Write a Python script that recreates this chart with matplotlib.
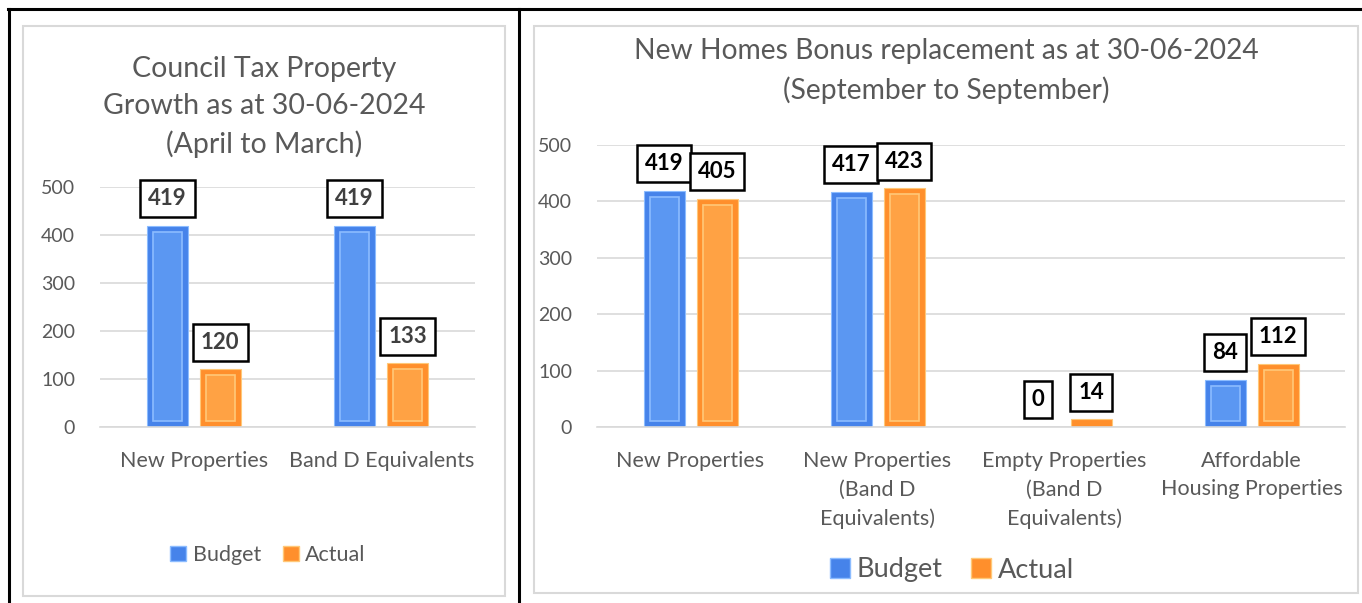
import matplotlib.pyplot as plt
from matplotlib.lines import Line2D
from matplotlib.patches import Rectangle, Patch

plt.rcParams["font.family"] = ["Lato", "DejaVu Sans"]

# data
ct_categories = ["New Properties", "Band D Equivalents"]
ct_budget = [419, 419]
ct_actual = [120, 133]

nhb_categories = ["New Properties", "New Properties\n(Band D\nEquivalents)",
                  "Empty Properties\n(Band D\nEquivalents)", "Affordable\nHousing Properties"]
nhb_budget = [419, 417, 0, 84]
nhb_actual = [405, 423, 14, 112]

series_names = ["Budget", "Actual"]
yticks = [0, 100, 200, 300, 400, 500]

W, H = 1362, 603
BLUE, BLUE_IN, BLUE_EDGE = "#4683ea", "#5b97f2", "#8cbcff"
ORANGE, ORANGE_IN, ORANGE_EDGE = "#ff8f2c", "#ffa244", "#ffc878"
GREY = "#595959"


def frac(x0, y0, x1, y1):
    # pixel box (top-left origin) -> figure fraction rect
    return [x0 / W, 1 - y1 / H, (x1 - x0) / W, (y1 - y0) / H]


def bevel_bars(ax, xs, vals, width, color, inner, edge, ax_px_w, ax_px_h):
    ax.bar(xs, vals, width=width, color=color, edgecolor=edge, linewidth=0.8, zorder=2)
    dx = 6 / ax_px_w * (ax.get_xlim()[1] - ax.get_xlim()[0])
    dy = 6 / ax_px_h * (ax.get_ylim()[1] - ax.get_ylim()[0])
    for x, v in zip(xs, vals):
        if v > 2 * dy:
            ax.bar(x, v - 2 * dy, bottom=dy, width=width - 2 * dx, color=inner,
                   edgecolor=edge, linewidth=1.2, zorder=3)


def draw_chart(ax, cats, budget, actual, ax_px_w, ax_px_h, lab_color):
    n = len(cats)
    ax.set_xlim(-0.5, n - 0.5)
    ax.set_ylim(0, 500)
    xs = list(range(n))
    off = 26.5 / (ax_px_w / n)
    bw = 41 / (ax_px_w / n)
    xb = [x - off for x in xs]
    xa = [x + off for x in xs]
    bevel_bars(ax, xb, budget, bw, BLUE, BLUE_IN, BLUE_EDGE, ax_px_w, ax_px_h)
    bevel_bars(ax, xa, actual, bw, ORANGE, ORANGE_IN, ORANGE_EDGE, ax_px_w, ax_px_h)
    for x, v in list(zip(xb, budget)) + list(zip(xa, actual)):
        ax.annotate(str(v), (x, v), xytext=(0, 19.5), textcoords="offset points",
                    ha="center", va="center", fontsize=16, fontweight="bold",
                    color=lab_color, zorder=5,
                    bbox=dict(boxstyle="square,pad=0.36", fc="white", ec="black", lw=1.8))
    ax.set_yticks(yticks)
    ax.set_xticks(xs)
    ax.set_xticklabels(cats, fontsize=15.5, color=GREY, linespacing=1.55)
    ax.tick_params(axis="y", labelsize=14, labelcolor=GREY, length=0, pad=18)
    ax.tick_params(axis="x", length=0, pad=17)
    ax.grid(axis="y", color="#d9d9d9", linewidth=1.2, zorder=0)
    ax.set_axisbelow(True)
    for s in ["top", "right", "left"]:
        ax.spines[s].set_visible(False)
    ax.spines["bottom"].set_color("#d9d9d9")
    ax.spines["bottom"].set_linewidth(1.2)


fig = plt.figure(figsize=(W / 100, H / 100), dpi=100)

# table borders and chart frames
fig.add_artist(Line2D([8 / W, 1], [1 - 9 / H] * 2, color="black", lw=2.2))
fig.add_artist(Line2D([9 / W] * 2, [0, 1 - 9 / H], color="black", lw=2.2))
fig.add_artist(Line2D([519 / W] * 2, [0, 1 - 9 / H], color="black", lw=2.2))
fig.add_artist(Rectangle((23 / W, 1 - 596 / H), 482 / W, 570 / H, fill=False, ec="#d9d9d9", lw=1.5))
fig.add_artist(Rectangle((534 / W, 1 - 593 / H), 824 / W, 567 / H, fill=False, ec="#d9d9d9", lw=1.5))

ax1 = fig.add_axes(frac(100, 187, 475, 427))
draw_chart(ax1, ct_categories, ct_budget, ct_actual, 375, 240, "#404040")
fig.text(264 / W, 1 - 107 / H, "Council Tax Property\nGrowth as at 30-06-2024\n(April to March)",
         ha="center", va="center", fontsize=20.5, color=GREY, linespacing=1.52)

ax2 = fig.add_axes(frac(597, 145, 1345, 427))
draw_chart(ax2, nhb_categories, nhb_budget, nhb_actual, 748, 282, "black")
fig.text(946 / W, 1 - 71 / H, "New Homes Bonus replacement as at 30-06-2024\n(September to September)",
         ha="center", va="center", fontsize=20.3, color=GREY, linespacing=1.52)

handles = [Patch(fc=BLUE, ec=BLUE_EDGE), Patch(fc=ORANGE, ec=ORANGE_EDGE)]
fig.legend(handles, series_names, loc="center", bbox_to_anchor=(268 / W, 1 - 555 / H), ncol=2,
           frameon=False, fontsize=15.5, labelcolor=GREY, handlelength=0.75, handleheight=0.75,
           handletextpad=0.3, columnspacing=1.0)
fig.legend(handles, series_names, loc="center", bbox_to_anchor=(952 / W, 1 - 570 / H), ncol=2,
           frameon=False, fontsize=19.5, labelcolor=GREY, handlelength=0.75, handleheight=0.75,
           handletextpad=0.25, columnspacing=1.05)

fig.savefig("out.png", dpi=100)
